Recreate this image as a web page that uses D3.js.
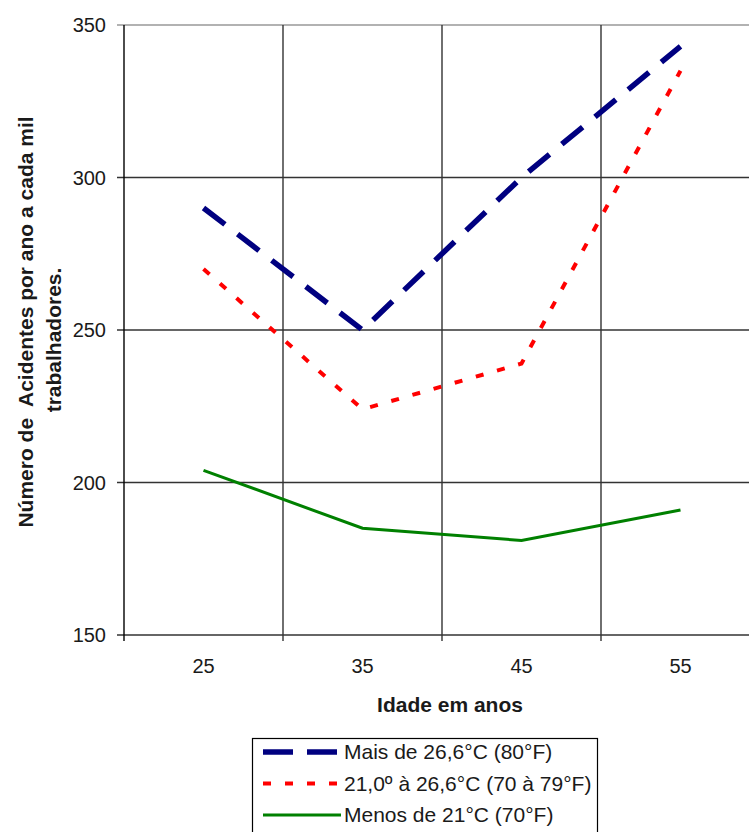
<!DOCTYPE html>
<html lang="pt">
<head>
  <meta charset="UTF-8">
  <title>Acidentes por idade e temperatura</title>
  <script src="https://d3js.org/d3.v7.min.js"></script>
  <style>
    body { margin: 0; background: #fff; }
    text { font-family: "Liberation Sans", Arial, sans-serif; }
  </style>
</head>
<body>
<svg id="chart" width="749" height="832"></svg>
<script>
// data
const ages = ["25", "35", "45", "55"];
const acimaDe26 = [290, 250, 300, 343];
const de21a26 = [270, 224, 239, 335];
const abaixoDe21 = [204, 185, 181, 191];
const yTicks = [150, 200, 250, 300, 350];
const seriesNames = ["Mais de 26,6°C (80°F)", "21,0º à 26,6°C (70 à 79°F)", "Menos de 21°C (70°F)"];

const svg = d3.select("#chart");
const plotLeft = 124, plotTop = 25, plotRight = 760, plotBottom = 635;

const x = d3.scaleBand().domain(ages).range([plotLeft, plotRight]);
const y = d3.scaleLinear().domain([150, 350]).range([plotBottom, plotTop]);

// horizontal grid
svg.append("g").selectAll("line")
  .data(yTicks)
  .enter().append("line")
    .attr("x1", plotLeft - 7).attr("x2", plotRight)
    .attr("y1", d => y(d)).attr("y2", d => y(d))
    .attr("stroke", d => d === 350 ? "#999" : "#333")
    .attr("stroke-width", 1.4);

// vertical grid at category boundaries
const bounds = ages.map(a => x(a));
svg.append("g").selectAll("line")
  .data(bounds)
  .enter().append("line")
    .attr("x1", d => d).attr("x2", d => d)
    .attr("y1", plotTop).attr("y2", plotBottom + 6)
    .attr("stroke", (d, i) => i === 0 ? "#000" : "#333")
    .attr("stroke-width", 1.4);

// y tick labels
svg.append("g").selectAll("text")
  .data(yTicks)
  .enter().append("text")
    .attr("x", 106).attr("y", d => y(d) + 7)
    .attr("text-anchor", "end")
    .attr("font-size", 20)
    .attr("fill", "#1a1a1a")
    .text(d => d);

// x tick labels
svg.append("g").selectAll("text")
  .data(ages)
  .enter().append("text")
    .attr("x", d => x(d) + x.bandwidth() / 2).attr("y", 673)
    .attr("text-anchor", "middle")
    .attr("font-size", 20)
    .attr("fill", "#1a1a1a")
    .text(d => d);

svg.append("text")
  .attr("x", 450).attr("y", 712)
  .attr("text-anchor", "middle")
  .attr("font-size", 21).attr("font-weight", "bold")
  .attr("fill", "#1a1a1a")
  .text("Idade em anos");

svg.append("text")
  .attr("transform", "translate(33,322) rotate(-90)")
  .attr("text-anchor", "middle")
  .attr("font-size", 21).attr("font-weight", "bold")
  .attr("fill", "#1a1a1a")
  .attr("xml:space", "preserve")
  .text("Número de  Acidentes por ano a cada mil");
svg.append("text")
  .attr("transform", "translate(61,340) rotate(-90)")
  .attr("text-anchor", "middle")
  .attr("font-size", 21).attr("font-weight", "bold")
  .attr("fill", "#1a1a1a")
  .text("trabalhadores.");

// series
const cx = a => x(a) + x.bandwidth() / 2;
const series = [
  { values: acimaDe26, color: "#000080", width: 5.5, dash: "27,16" },
  { values: de21a26, color: "#ff0000", width: 4, dash: "8,14" },
  { values: abaixoDe21, color: "#008000", width: 3, dash: null }
];

const line = d3.line()
  .x((d, i) => cx(ages[i]))
  .y(d => y(d));

series.forEach(s => {
  svg.append("path")
    .datum(s.values)
    .attr("d", line)
    .attr("fill", "none")
    .attr("stroke", s.color)
    .attr("stroke-width", s.width)
    .attr("stroke-dasharray", s.dash);
});

// legend
const legend = svg.append("g").attr("transform", "translate(252,738)");
legend.append("rect")
  .attr("x", 0.5).attr("y", 0.5).attr("width", 345).attr("height", 100)
  .attr("fill", "#fff").attr("stroke", "#000").attr("stroke-width", 1.2);

series.forEach((s, i) => {
  const ly = 14 + i * 31.5;
  legend.append("line")
    .attr("x1", 11).attr("x2", 89)
    .attr("y1", ly).attr("y2", ly)
    .attr("stroke", s.color)
    .attr("stroke-width", s.width)
    .attr("stroke-dasharray", i === 0 ? "30,14" : s.dash);
  legend.append("text")
    .attr("x", 92).attr("y", ly + 7)
    .attr("font-size", 21)
    .attr("fill", "#1a1a1a")
    .text(seriesNames[i]);
});
</script>
</body>
</html>
